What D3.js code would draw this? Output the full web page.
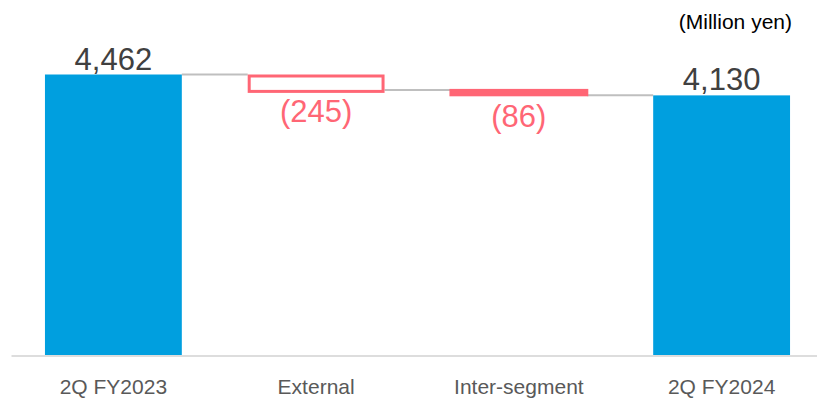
<!DOCTYPE html>
<html lang="en">
  <head>
    <meta charset="utf-8" />
    <title>Waterfall</title>
    <script src="https://d3js.org/d3.v7.min.js"></script>
    <style type="text/css">
      body { margin: 0; background: #fff; }
      svg { display: block; font-family: 'Liberation Sans', Arial, sans-serif; }
    </style>
  </head>
  <body>
    <script type="text/javascript">
      // Chart data
      const categories = ['2Q FY2023', 'External', 'Inter-segment', '2Q FY2024'];
      const values = [4462, -245, -86, 4130];
      const kinds = ['total', 'external', 'internal', 'total'];
      const unitLabel = '(Million yen)';

      const w = 817;
      const h = 398;
      const baseY = 355;

      // build start/end for each step of the waterfall
      let running = 0;
      const dataset = categories.map((c, i) => {
        let d;
        if (kinds[i] === 'total') {
          d = { cat: c, v: values[i], kind: kinds[i], y0: 0, y1: values[i] };
          running = values[i];
        } else {
          d = { cat: c, v: values[i], kind: kinds[i], y0: running + values[i], y1: running };
          running = running + values[i];
        }
        return d;
      });

      const xScale = d3
        .scaleBand()
        .domain(categories)
        .range([11, 824])
        .paddingInner(0.325)
        .paddingOuter(0.1675);

      const yScale = d3
        .scaleLinear()
        .domain([0, d3.max(values)])
        .range([baseY, 74.5]);

      const svg = d3
        .select('body')
        .append('svg')
        .attr('width', w)
        .attr('height', h);

      // connector lines between bars
      dataset.slice(0, -1).forEach((d, i) => {
        const level = d.kind === 'total' ? d.y1 : d.y0;
        svg
          .append('line')
          .attr('x1', xScale(d.cat) + xScale.bandwidth())
          .attr('x2', xScale(categories[i + 1]))
          .attr('y1', yScale(level))
          .attr('y2', yScale(level))
          .attr('stroke', '#bfbfbf')
          .attr('stroke-width', 2);
      });

      const blue = '#009fdf';
      const red = '#ff6675';

      svg
        .selectAll('rect.bar')
        .data(dataset)
        .enter()
        .append('rect')
        .attr('class', 'bar')
        .attr('x', d => xScale(d.cat) + (d.kind === 'external' ? 1.5 : 0))
        .attr('y', d => yScale(d.y1) + (d.kind === 'external' ? 1.5 : 0))
        .attr('width', d => xScale.bandwidth() - (d.kind === 'external' ? 3 : 0))
        .attr('height', d => yScale(d.y0) - yScale(d.y1))
        .attr('fill', d => (d.kind === 'total' ? blue : d.kind === 'internal' ? red : 'none'))
        .attr('stroke', d => (d.kind === 'total' ? 'none' : red))
        .attr('stroke-width', d => (d.kind === 'external' ? 3 : 2));

      // x axis
      const xAxis = d3.axisBottom(xScale).tickSize(0).tickSizeOuter(0).tickPadding(24);
      const gx = svg
        .append('g')
        .attr('transform', `translate(0, ${baseY + 0.5})`)
        .call(xAxis);
      gx.select('.domain').attr('stroke', '#d9d9d9').attr('stroke-width', 2).attr('opacity', 0.9);
      gx.selectAll('text')
        .attr('font-size', 21)
        .attr('font-family', "'Liberation Sans', Arial, sans-serif")
        .attr('fill', '#595959')
        .attr('dy', '0.71em');

      // value labels
      const fmt = d3.format(',');
      svg
        .selectAll('text.val')
        .data(dataset)
        .enter()
        .append('text')
        .attr('class', 'val')
        .attr('x', d => xScale(d.cat) + xScale.bandwidth() / 2)
        .attr('y', d => (d.kind === 'total' ? yScale(d.y1) - 5 : yScale(d.y0) + 32))
        .attr('text-anchor', 'middle')
        .attr('font-size', 31)
        .attr('fill', d => (d.kind === 'total' ? '#404040' : red))
        .text(d => (d.v < 0 ? `(${fmt(-d.v)})` : fmt(d.v)));

      // unit label
      svg
        .append('text')
        .attr('x', 792)
        .attr('y', 29)
        .attr('text-anchor', 'end')
        .attr('font-size', 21)
        .attr('fill', '#000')
        .text(unitLabel);
    </script>
  </body>
</html>
